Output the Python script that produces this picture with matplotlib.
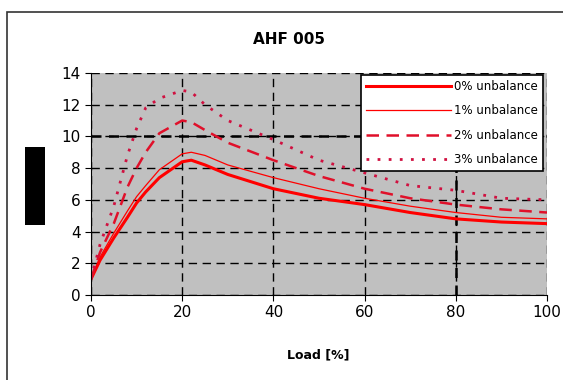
# AHF 005 - distortion vs load for several unbalance levels

import numpy as np
import matplotlib.pyplot as plt
from matplotlib.patches import Rectangle

load = [0, 2, 5, 8, 10, 12, 15, 20, 22, 25, 30, 40, 50, 60, 70, 80, 90, 100]
unb0 = [1.0, 2.2, 3.6, 4.9, 5.8, 6.5, 7.4, 8.4, 8.5, 8.2, 7.6, 6.7, 6.1, 5.7, 5.2, 4.8, 4.6, 4.5]
unb1 = [1.0, 2.4, 3.9, 5.3, 6.2, 6.9, 7.9, 8.9, 9.0, 8.8, 8.2, 7.4, 6.7, 6.1, 5.6, 5.2, 4.9, 4.8]
unb2 = [1.0, 2.7, 4.5, 6.8, 8.0, 9.0, 10.2, 11.0, 10.9, 10.4, 9.6, 8.5, 7.5, 6.7, 6.1, 5.7, 5.4, 5.2]
unb3 = [1.0, 3.2, 5.6, 8.8, 10.5, 11.8, 12.4, 12.9, 12.8, 12.0, 11.0, 9.8, 8.5, 7.7, 6.9, 6.6, 6.1, 6.0]
labels = ['0% unbalance', '1% unbalance', '2% unbalance', '3% unbalance']

fig = plt.figure(figsize=(5.63, 3.8), dpi=100)
ax = fig.add_axes([0.1616, 0.2237, 0.81, 0.5843])
ax.set_facecolor('#c0c0c0')

ax.plot(load, unb0, color='red', lw=2.2, label=labels[0])
ax.plot(load, unb1, color='red', lw=0.9, label=labels[1])
ax.plot(load, unb2, color='#e0102a', lw=1.8, ls=(0, (5, 3)), label=labels[2])
ax.plot(load, unb3, color='#d01040', lw=2, ls=(0, (1, 3)), label=labels[3])

ax.set_xlim(0, 100)
ax.set_ylim(0, 14)
ax.set_xticks([0, 20, 40, 60, 80, 100])
ax.set_yticks(range(0, 15, 2))
ax.grid(True, color='black', ls=(0, (6, 4)), lw=1)
# the 10 and 80 grid lines print heavier in the original
ax.axhline(10, color='black', ls=(0, (4, 3)), lw=1.8, zorder=0.9)
ax.axvline(80, color='black', ls=(0, (4, 3)), lw=1.8, zorder=0.9)
ax.set_axisbelow(True)
ax.tick_params(labelsize=11, direction='out', length=4, color='black')
for s in ['top', 'right']:
    ax.spines[s].set_visible(False)

fig.text(289 / 563, 1 - 40 / 380, 'AHF 005', fontsize=11, fontweight='bold', ha='center', va='center')
fig.text(318 / 563, 1 - 355 / 380, 'Load [%]', fontsize=9, fontweight='bold', ha='center', va='center')

leg = ax.legend(loc='upper right', bbox_to_anchor=(0.991, 0.991), borderaxespad=0, fontsize=8.5,
                frameon=True, fancybox=False, framealpha=1, edgecolor='black',
                handlelength=7.2, labelspacing=0.95, borderpad=0.45, handletextpad=0.2)
leg.get_frame().set_linewidth(1.2)

# outer chart border and redacted y label block
fig.patches.append(Rectangle((7 / 563, -0.05), 1.0, 1 - 12 / 380 + 0.05, transform=fig.transFigure,
                             fill=False, edgecolor='#333333', lw=1.2))
fig.patches.append(Rectangle((25 / 563, 1 - 225 / 380), 20 / 563, 78 / 380, transform=fig.transFigure,
                             facecolor='black', edgecolor='none'))

fig.savefig('out.png', dpi=100)
